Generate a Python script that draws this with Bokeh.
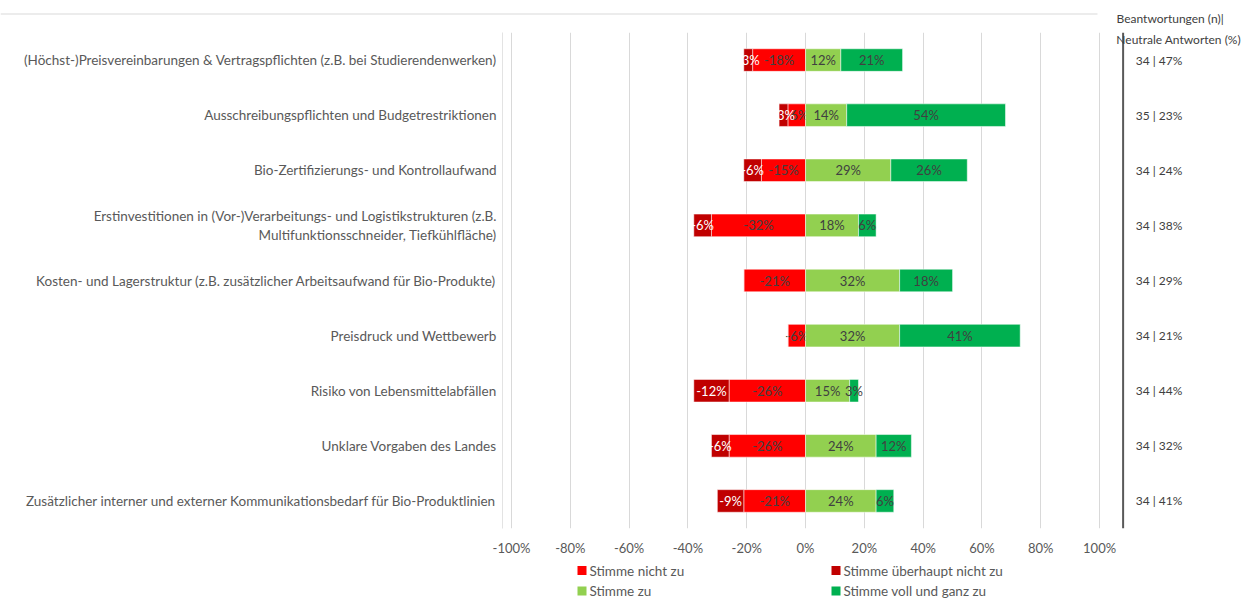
import numpy as np
from bokeh.plotting import figure
from bokeh.layouts import column
from bokeh.models import (ColumnDataSource, FactorRange, Range1d, FixedTicker,
                          Span, Label)
from bokeh.core.properties import value
from bokeh.embed import file_html
from bokeh.resources import INLINE

# ---------------- data ----------------
categories = [
    "(Höchst-)Preisvereinbarungen & Vertragspflichten (z.B. bei Studierendenwerken)",
    "Ausschreibungspflichten und Budgetrestriktionen",
    "Bio-Zertifizierungs- und Kontrollaufwand",
    "Erstinvestitionen in (Vor-)Verarbeitungs- und Logistikstrukturen (z.B.\nMultifunktionsschneider, Tiefkühlfläche)",
    "Kosten- und Lagerstruktur (z.B. zusätzlicher Arbeitsaufwand für Bio-Produkte)",
    "Preisdruck und Wettbewerb",
    "Risiko von Lebensmittelabfällen",
    "Unklare Vorgaben des Landes",
    "Zusätzlicher interner und externer Kommunikationsbedarf für Bio-Produktlinien",
]
stimme_ueberhaupt_nicht_zu = [3, 3, 6, 6, 0, 0, 12, 6, 9]
stimme_nicht_zu = [18, 6, 15, 32, 21, 6, 26, 26, 21]
stimme_zu = [12, 14, 29, 18, 32, 32, 15, 24, 24]
stimme_voll_und_ganz_zu = [21, 54, 26, 6, 18, 41, 3, 12, 6]
beantwortungen_n = [34, 35, 34, 34, 34, 34, 34, 34, 34]
neutrale_pct = [47, 23, 24, 38, 29, 21, 44, 32, 41]

x_ticks = [-100, -80, -60, -40, -20, 0, 20, 40, 60, 80, 100]
series_names = ["Stimme nicht zu", "Stimme überhaupt nicht zu",
                "Stimme zu", "Stimme voll und ganz zu"]
series_colors = ["#FF0000", "#C00000", "#92D050", "#00B050"]
label_colors = ["#404040", "#FFFFFF", "#404040", "#404040"]
header_line1 = "Beantwortungen (n)|"
header_line2 = "Neutrale Antworten (%)"

FONT = "Lato"
W = 1242
H_TOP, H_MAIN, H_LEG = 32, 526, 41


def strip_figure(h):
    f = figure(width=W, height=h, x_range=Range1d(0, W), y_range=Range1d(h, 0),
               output_backend="svg", toolbar_location=None,
               x_axis_location=None, y_axis_location=None,
               min_border_left=0, min_border_right=0,
               min_border_top=0, min_border_bottom=0)
    f.outline_line_color = None
    f.grid.visible = False
    f.title.visible = False
    return f


# ---------------- top strip (rule line + header line 1) ----------------
p0 = strip_figure(H_TOP)
p0.segment(x0=[0], y0=[13.5], x1=[1097], y1=[13.5], line_color="#D9D9D9",
           line_width=1)
p0.text(x=[1116], y=[18], text=[header_line1], text_align="left",
        text_baseline="middle", text_font=value(FONT), text_font_size="12px",
        text_color="#404040")

# ---------------- main figure ----------------
p = figure(width=W, height=H_MAIN,
           y_range=FactorRange(factors=categories[::-1]),
           x_range=Range1d(-103.06, 148.6),
           output_backend="svg", toolbar_location=None,
           min_border_left=502, min_border_top=0,
           min_border_bottom=29, min_border_right=0)
p.title.visible = False
p.outline_line_color = None
p.background_fill_color = "white"
p.border_fill_color = "white"

nz = np.array(stimme_nicht_zu, dtype=float)
unz = np.array(stimme_ueberhaupt_nicht_zu, dtype=float)
sz = np.array(stimme_zu, dtype=float)
svz = np.array(stimme_voll_und_ganz_zu, dtype=float)

segments = [
    (-nz, np.zeros_like(nz), nz, "-"),
    (-(nz + unz), -nz, unz, "-"),
    (np.zeros_like(sz), sz, sz, ""),
    (sz, sz + svz, svz, ""),
]

for (left, right, vals, sign), col, lcol in zip(segments, series_colors, label_colors):
    src = ColumnDataSource(dict(y=categories, left=left, right=right))
    p.hbar(y="y", left="left", right="right", height=0.41, source=src,
           fill_color=col, line_color="white", line_width=1, line_alpha=0.5)
    mask = vals > 0
    lsrc = ColumnDataSource(dict(
        y=[c for c, m in zip(categories, mask) if m],
        x=((left + right) / 2)[mask],
        t=[f"{sign}{int(v)}%" for v in vals[mask]],
    ))
    p.text(x="x", y="y", text="t", source=lsrc, text_align="center",
           text_baseline="middle", text_font=value(FONT),
           text_font_size="13px", text_color=lcol)

# right column: n | neutral
rsrc = ColumnDataSource(dict(
    y=categories,
    t=[f"{n} | {q}%" for n, q in zip(beantwortungen_n, neutrale_pct)],
))
p.text(x=112.3, y="y", text="t", source=rsrc, text_align="left",
       text_baseline="middle", text_font=value(FONT), text_font_size="12px",
       text_color="#404040")

p.add_layout(Span(location=108, dimension="height", line_color="#595959",
                  line_width=2))

p.add_layout(Label(x=105.7, y=489, x_units="data", y_units="screen",
                   text=header_line2, text_font=FONT, text_font_size="12px",
                   text_color="#404040", text_baseline="middle"))

# axes / grid
p.xaxis.ticker = FixedTicker(ticks=x_ticks)
p.xaxis.major_label_overrides = {t: f"{t}%" for t in x_ticks}
p.xaxis.axis_line_color = None
p.xaxis.major_tick_line_color = None
p.xaxis.minor_tick_line_color = None
p.xaxis.major_label_standoff = 5
p.xaxis.major_label_text_font = FONT
p.xaxis.major_label_text_font_size = "13px"
p.xaxis.major_label_text_color = "#595959"

p.xgrid.ticker = FixedTicker(ticks=x_ticks)
p.xgrid.grid_line_color = "#D9D9D9"
p.ygrid.grid_line_color = None

p.yaxis.axis_line_color = "#E3E3E3"
p.yaxis.major_tick_line_color = None
p.yaxis.minor_tick_line_color = None
p.yaxis.major_label_standoff = 0
p.yaxis.major_label_text_font = FONT
p.yaxis.major_label_text_font_size = "13.5px"
p.yaxis.major_label_text_color = "#595959"

# ---------------- legend strip ----------------
p2 = strip_figure(H_LEG)
legend_col_x = [577, 831]
legend_row_y = [12, 32.5]
swatch = 9
lx = [legend_col_x[i % 2] for i in range(len(series_names))]
ly = [legend_row_y[i // 2] for i in range(len(series_names))]
lsrc2 = ColumnDataSource(dict(
    x=[v + swatch / 2 for v in lx], tx=[v + swatch + 3 for v in lx], y=ly,
    name=series_names, color=series_colors,
))
p2.rect(x="x", y="y", width=swatch, height=swatch, source=lsrc2,
        fill_color="color", line_color=None)
p2.text(x="tx", y="y", text="name", source=lsrc2, text_align="left",
        text_baseline="middle", text_font=value(FONT), text_font_size="13.5px",
        text_color="#595959")

# keep each strip's frame independent of the main plot's borders
for f in (p0, p, p2):
    f.frame_align = False

layout = column(p0, p, p2, spacing=0)
open("out.html", "w").write(file_html(layout, INLINE))
